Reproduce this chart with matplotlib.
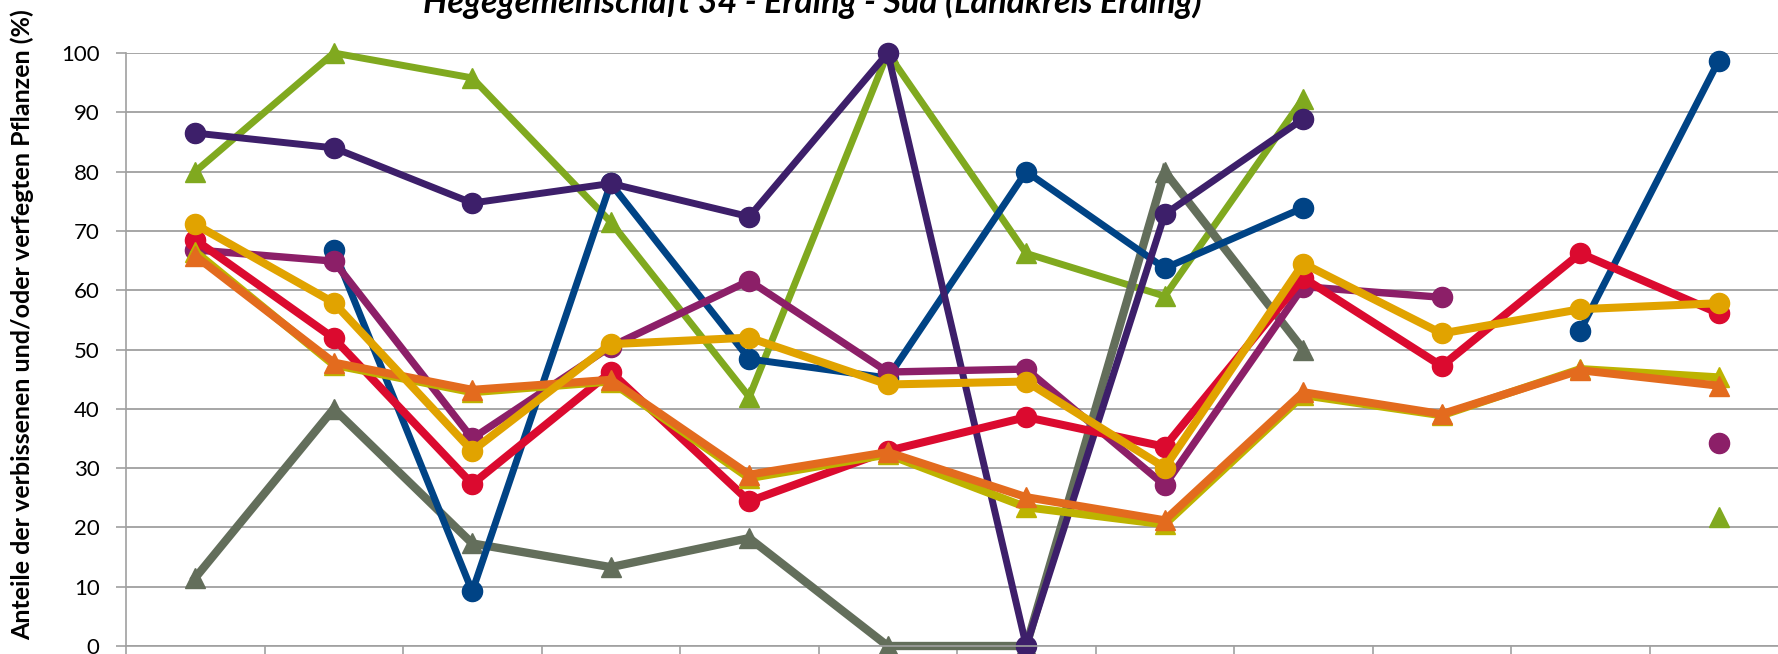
import numpy as np
import matplotlib.pyplot as plt

nan = np.nan

# 12 categories (x labels are cut off in the reference)
n_cat = 12
x = np.arange(n_cat)

# Series values (%)
gray_tri = [11.5, 40, 17.3, 13.3, 18.2, 0, 0, 80, 50, nan, nan, nan]
green_tri = [80, 100, 95.8, 71.5, 42, 100, 66.2, 59, 92.3, nan, nan, 21.7]
blue_dot = [nan, 66.8, 9.2, 78, 48.4, 45.2, 80, 63.7, 73.9, nan, 53.2, 98.7]
purple_dot = [86.5, 84, 74.7, 78, 72.4, 100, 0, 72.8, 88.9, nan, nan, nan]
plum_dot = [66.8, 64.9, 35.0, 50.5, 61.6, 46.2, 46.7, 27.1, 60.6, 58.8, nan, 34.2]
red_dot = [68.5, 51.9, 27.3, 46.2, 24.4, 32.9, 38.6, 33.6, 62.1, 47.2, 66.2, 56.1]
olive_tri = [66.5, 47.4, 42.8, 44.6, 28.3, 32.3, 23.4, 20.5, 42.3, 38.9, 46.7, 45.3]
orange_tri = [65.8, 47.8, 43.2, 44.9, 28.9, 32.7, 25.1, 21.2, 42.8, 39.1, 46.5, 43.9]
gold_dot = [71.1, 57.9, 32.9, 50.9, 52.0, 44.1, 44.6, 30.1, 64.5, 52.7, 56.8, 57.8]

title = "Hegegemeinschaft 34 - Erding - Süd (Landkreis Erding)"
ylabel = "Anteile der verbissenen und/oder verfegten Pflanzen (%)"

plt.rcParams['font.family'] = ['Lato', 'DejaVu Sans']

fig = plt.figure(figsize=(17.78, 6.54), dpi=100)
ax = fig.add_axes([126 / 1778, 8 / 654, 1662 / 1778, 593 / 654])

# drawing order: later series lie on top
series = [
    (green_tri, '#80A91F', '^', 5.0),
    (gray_tri, '#636E5B', '^', 6.0),
    (blue_dot, '#004385', 'o', 5.0),
    (purple_dot, '#3D1F6A', 'o', 5.0),
    (plum_dot, '#8C1F68', 'o', 5.3),
    (red_dot, '#DB0A2F', 'o', 5.8),
    (olive_tri, '#BDB300', '^', 5.8),
    (orange_tri, '#E36B1E', '^', 5.8),
    (gold_dot, '#E1A300', 'o', 5.8),
]
for vals, col, mk, lw in series:
    ms = 14.5 if mk == 'o' else 15
    ax.plot(x, vals, color=col, lw=lw, marker=mk, ms=ms, mec=col, mfc=col,
            solid_joinstyle='miter', clip_on=False)

ax.set_xlim(-0.5, n_cat - 0.5)
ax.set_ylim(0, 100)
ax.set_yticks(np.arange(0, 101, 10))
ax.set_xticks(np.arange(-0.5, n_cat, 1))
ax.set_xticklabels([])
ax.yaxis.grid(True, color='#A6A6A6', lw=1.4)
ax.set_axisbelow(True)
for s in ['top', 'right']:
    ax.spines[s].set_visible(False)
for s in ['left', 'bottom']:
    ax.spines[s].set_color('#A0A0A0')
    ax.spines[s].set_linewidth(1.2)
ax.tick_params(axis='both', direction='out', length=7, width=1.2, color='#A0A0A0')
ax.tick_params(axis='y', labelsize=16, pad=12, labelcolor='black')

fig.text(22 / 1778, 1 - 325 / 654, ylabel, rotation=90, ha='center', va='center',
         fontsize=18, fontweight='bold')
fig.text(812 / 1778, 1 - 13 / 654, title, ha='center', va='baseline',
         fontsize=24.5, fontweight='bold', style='italic')

fig.savefig('out.png', dpi=100)
